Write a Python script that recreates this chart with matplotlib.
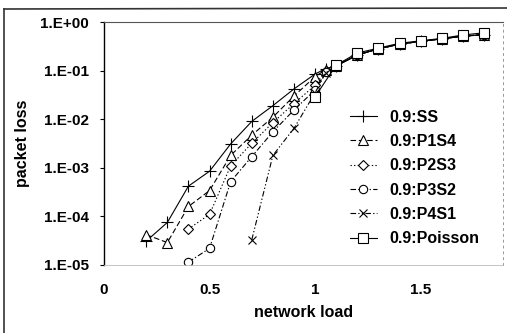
import numpy as np
import matplotlib.pyplot as plt
from matplotlib.lines import Line2D

plt.rcParams['font.family'] = ['Liberation Sans', 'DejaVu Sans']
plt.rcParams['font.weight'] = 'bold'

# network load values
x_ss = [0.2, 0.3, 0.4, 0.5, 0.6, 0.7, 0.8, 0.9, 1.0, 1.05, 1.1, 1.2, 1.3, 1.4, 1.5, 1.6, 1.7, 1.8]
x_p1s4 = [0.2, 0.3, 0.4, 0.5, 0.6, 0.7, 0.8, 0.9, 1.0, 1.05, 1.1, 1.2, 1.3, 1.4, 1.5, 1.6, 1.7, 1.8]
x_p2s3 = [0.4, 0.5, 0.6, 0.7, 0.8, 0.9, 1.0, 1.05, 1.1, 1.2, 1.3, 1.4, 1.5, 1.6, 1.7, 1.8]
x_p3s2 = [0.4, 0.5, 0.6, 0.7, 0.8, 0.9, 1.0, 1.05, 1.1, 1.2, 1.3, 1.4, 1.5, 1.6, 1.7, 1.8]
x_p4s1 = [0.7, 0.8, 0.9, 1.0, 1.05, 1.1, 1.2, 1.3, 1.4, 1.5, 1.6, 1.7, 1.8]
x_pois = [1.0, 1.1, 1.2, 1.3, 1.4, 1.5, 1.6, 1.7, 1.8]

# packet loss values
tail = [0.125, 0.21, 0.28, 0.35, 0.40, 0.45, 0.51, 0.55]
y_ss = [3.1e-5, 7.5e-5, 4.2e-4, 8.5e-4, 3.1e-3, 9.0e-3, 1.9e-2, 4.2e-2, 8.5e-2, 0.11] + tail
y_p1s4 = [4.2e-5, 2.9e-5, 1.6e-4, 3.4e-4, 1.8e-3, 4.7e-3, 1.1e-2, 3.0e-2, 7.5e-2, 0.105] + tail
y_p2s3 = [5.5e-5, 1.1e-4, 1.1e-3, 3.2e-3, 8.5e-3, 2.1e-2, 5.0e-2, 0.10] + tail
y_p3s2 = [1.15e-5, 2.2e-5, 5.2e-4, 1.7e-3, 5.5e-3, 1.55e-2, 4.0e-2, 0.095] + tail
y_p4s1 = [3.3e-5, 1.8e-3, 6.5e-3, 3.5e-2, 0.09] + tail
y_pois = [2.9e-2, 0.13, 0.23, 0.29, 0.365, 0.41, 0.46, 0.54, 0.60]

fig = plt.figure(figsize=(5.07, 3.33), dpi=100)
ax = fig.add_axes([104 / 507, 1 - 265 / 333, 399 / 507, 243 / 333])

mk = dict(color='black', markerfacecolor='white', markeredgecolor='black',
          markeredgewidth=0.8, linewidth=0.8)
ax.plot(x_ss, y_ss, linestyle='-', marker='+', markersize=8, label='0.9:SS', **mk)
ax.plot(x_p1s4, y_p1s4, linestyle=(0, (5, 2.5)), marker='^', markersize=6.5, label='0.9:P1S4', **mk)
ax.plot(x_p2s3, y_p2s3, linestyle=(0, (1.2, 2)), marker='D', markersize=5, label='0.9:P2S3', **mk)
ax.plot(x_p3s2, y_p3s2, linestyle=(0, (5, 2, 1.2, 2)), marker='o', markersize=6, label='0.9:P3S2', **mk)
ax.plot(x_p4s1, y_p4s1, linestyle=(0, (5, 2, 1.2, 2, 1.2, 2)), marker='x', markersize=6, label='0.9:P4S1', **mk)
ax.plot(x_pois, y_pois, linestyle='-', marker='s', markersize=7, label='0.9:Poisson', **mk)

ax.set_yscale('log')
ax.set_ylim(1e-5, 1.0)
ax.set_xlim(0, 1.89)
ax.set_xticks([0, 0.5, 1, 1.5])
ax.set_xticklabels(['0', '0.5', '1', '1.5'])
ax.set_yticks([1e-5, 1e-4, 1e-3, 1e-2, 1e-1, 1e0])
ax.set_yticklabels(['1.E-05', '1.E-04', '1.E-03', '1.E-02', '1.E-01', '1.E+00'])
ax.minorticks_off()
ax.tick_params(axis='y', direction='out', length=3, width=0.8, labelsize=11, pad=8)
ax.tick_params(axis='x', length=0, labelsize=11, pad=13)

ax.set_xlabel('network load', fontsize=11.5, fontweight='bold', labelpad=6)
ax.set_ylabel('packet loss', fontsize=11.5, fontweight='bold', labelpad=7)

ax.spines['left'].set_linewidth(1.0)
ax.spines['bottom'].set_color('#bbbbbb')
ax.spines['bottom'].set_linewidth(0.6)
ax.spines['top'].set_color('#555555')
ax.spines['top'].set_linewidth(0.8)
ax.spines['right'].set_color('#999999')
ax.spines['right'].set_linestyle((0, (2, 4)))
ax.spines['right'].set_linewidth(0.7)

leg = ax.legend(loc='upper left', bbox_to_anchor=(0.6, 0.665), frameon=False,
                prop={'size': 11.5, 'weight': 'bold'}, handlelength=1.7,
                handletextpad=0.8, labelspacing=0.58, borderaxespad=0)

# outer chart border
fig.add_artist(Line2D([4 / 507, 4 / 507], [0, 1 - 9 / 333], color='#333333', linewidth=1.2))
fig.add_artist(Line2D([4 / 507, 1], [1 - 9 / 333, 1 - 8 / 333], color='#333333', linewidth=1.2))

fig.savefig('out.png', dpi=100)
